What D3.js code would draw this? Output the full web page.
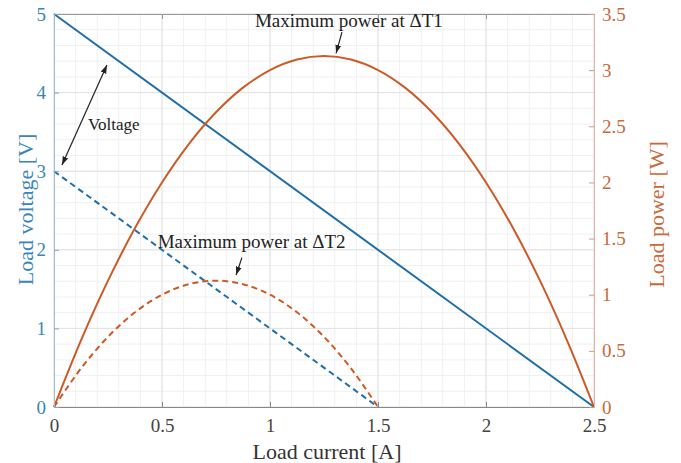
<!DOCTYPE html>
<html><head><meta charset="utf-8">
<script src="https://cdn.jsdelivr.net/npm/d3@7"></script>
<style>
body{margin:0;background:#fff;}
text{font-family:"Liberation Serif","Times New Roman",serif;}
</style></head>
<body><svg id="c" width="681" height="463"></svg>
<script>
// ---- data ----
const currentHi = [0,0.125,0.25,0.375,0.5,0.625,0.75,0.875,1.0,1.125,1.25,1.375,1.5,1.625,1.75,1.875,2.0,2.125,2.25,2.375,2.5];
const powerHi   = [0,0.594,1.125,1.594,2.0,2.344,2.625,2.844,3.0,3.094,3.125,3.094,3.0,2.844,2.625,2.344,2.0,1.594,1.125,0.594,0];
const currentLo = [0,0.125,0.25,0.375,0.5,0.625,0.75,0.875,1.0,1.125,1.25,1.375,1.5];
const powerLo   = [0,0.344,0.625,0.844,1.0,1.094,1.125,1.094,1.0,0.844,0.625,0.344,0];
const voltCurHi = [0,2.5];
const voltHi    = [5,0];
const voltCurLo = [0,1.5];
const voltLo    = [3,0];
const xTicks = [0,0.5,1,1.5,2,2.5];
const yLeftTicks = [0,1,2,3,4,5];
const yRightTicks = [0,0.5,1,1.5,2,2.5,3,3.5];
const xLabel = "Load current [A]";
const yLeftLabel = "Load voltage [V]";
const yRightLabel = "Load power [W]";
// annotations in data coordinates (x current, y voltage axis)
const notes = [
  {text:"Maximum power at \u0394T1", x:0.93, y:4.83, size:19},
  {text:"Maximum power at \u0394T2", x:0.48, y:2.02, size:19},
  {text:"Voltage", x:0.157, y:3.52, size:17}
];
const arrows = [
  {x1:1.333, y1:4.77, x2:1.306, y2:4.50, both:false},
  {x1:0.87, y1:1.90, x2:0.843, y2:1.68, both:false},
  {x1:0.037, y1:3.08, x2:0.245, y2:4.35, both:true}
];

// ---- chart ----
const W=681,H=463, m={l:54,r:87,t:14,b:56};
const svg=d3.select("#c");
const blue="#1f6fa6", orange="#cd5a26", blueTxt="#3a86b8", orangeTxt="#c8693a";
const x=d3.scaleLinear().domain([0,2.5]).range([m.l,W-m.r]);
const yL=d3.scaleLinear().domain([0,5]).range([H-m.b,m.t]);
const yR=d3.scaleLinear().domain([0,3.5]).range([H-m.b,m.t]);

const defs=svg.append("defs");
defs.append("marker").attr("id","ah").attr("viewBox","0 0 10 10").attr("refX",10).attr("refY",5)
 .attr("markerWidth",7).attr("markerHeight",7).attr("orient","auto-start-reverse")
 .append("path").attr("d","M0,1.5 L10,5 L0,8.5 z").attr("fill","#222");

// grid
const g=svg.append("g");
const minorX=d3.range(0,2.5001,0.1), minorY=d3.range(0,5.0001,0.2);
g.selectAll(".mx").data(minorX).enter().append("line").attr("x1",d=>x(d)).attr("x2",d=>x(d))
 .attr("y1",yL(0)).attr("y2",yL(5)).attr("stroke","#f0f0f0").attr("stroke-width",1);
g.selectAll(".my").data(minorY).enter().append("line").attr("y1",d=>yL(d)).attr("y2",d=>yL(d))
 .attr("x1",x(0)).attr("x2",x(2.5)).attr("stroke","#f0f0f0").attr("stroke-width",1);
g.selectAll(".gx").data(xTicks).enter().append("line").attr("x1",d=>x(d)).attr("x2",d=>x(d))
 .attr("y1",yL(0)).attr("y2",yL(5)).attr("stroke","#e2e2e2").attr("stroke-width",1);
g.selectAll(".gy").data(yLeftTicks).enter().append("line").attr("y1",d=>yL(d)).attr("y2",d=>yL(d))
 .attr("x1",x(0)).attr("x2",x(2.5)).attr("stroke","#e2e2e2").attr("stroke-width",1);

// lines
const lineV=d3.line().x(d=>x(d[0])).y(d=>yL(d[1]));
const lineP=d3.line().x(d=>x(d[0])).y(d=>yR(d[1])).curve(d3.curveCatmullRom);
svg.append("path").attr("d",lineV(voltCurHi.map((c,i)=>[c,voltHi[i]]))).attr("fill","none").attr("stroke",blue).attr("stroke-width",2);
svg.append("path").attr("d",lineV(voltCurLo.map((c,i)=>[c,voltLo[i]]))).attr("fill","none").attr("stroke",blue).attr("stroke-width",2).attr("stroke-dasharray","6,4");
svg.append("path").attr("d",lineP(currentHi.map((c,i)=>[c,powerHi[i]]))).attr("fill","none").attr("stroke",orange).attr("stroke-width",2);
svg.append("path").attr("d",lineP(currentLo.map((c,i)=>[c,powerLo[i]]))).attr("fill","none").attr("stroke",orange).attr("stroke-width",2).attr("stroke-dasharray","6,4");

// axes
const axB=svg.append("g").attr("transform",`translate(0,${H-m.b})`)
 .call(d3.axisBottom(x).tickValues(xTicks).tickSizeInner(-5).tickSizeOuter(0).tickPadding(11).tickFormat(d3.format("")));
axB.select(".domain").attr("stroke","#888");
axB.selectAll(".tick line").attr("stroke","#888");
axB.selectAll("text").attr("font-size",19).attr("fill","#444").attr("dy","0.72em");
const axT=svg.append("g").attr("transform",`translate(0,${m.t})`)
 .call(d3.axisTop(x).tickValues(xTicks).tickSizeInner(-5).tickSizeOuter(0).tickFormat(""));
axT.select(".domain").attr("stroke","#999");
axT.selectAll(".tick line").attr("stroke","#999");
const axL=svg.append("g").attr("transform",`translate(${m.l},0)`)
 .call(d3.axisLeft(yL).tickValues(yLeftTicks).tickSizeInner(-5).tickSizeOuter(0).tickPadding(8).tickFormat(d3.format("")));
axL.select(".domain").attr("stroke","#9bbcd2");
axL.selectAll(".tick line").attr("stroke","#7ea8c4");
axL.selectAll("text").attr("font-size",19).attr("fill",blueTxt);
const axR=svg.append("g").attr("transform",`translate(${W-m.r},0)`)
 .call(d3.axisRight(yR).tickValues(yRightTicks).tickSizeInner(-5).tickSizeOuter(0).tickPadding(8).tickFormat(d3.format("")));
axR.select(".domain").attr("stroke","#e0b59e");
axR.selectAll(".tick line").attr("stroke","#d49a7c");
axR.selectAll("text").attr("font-size",19).attr("fill",orangeTxt);

// axis labels
svg.append("text").attr("x",(x(0)+x(2.5))/2+3).attr("y",459).attr("text-anchor","middle").attr("font-size",22).attr("fill","#333").text(xLabel);
svg.append("text").attr("transform",`translate(33,${(yL(0)+yL(5))/2-1}) rotate(-90)`).attr("text-anchor","middle").attr("font-size",22).attr("fill",blueTxt).text(yLeftLabel);
svg.append("text").attr("transform",`translate(664,${(yL(0)+yL(5))/2+4}) rotate(-90)`).attr("text-anchor","middle").attr("font-size",22).attr("fill",orangeTxt).text(yRightLabel);

// annotations
svg.selectAll(".note").data(notes).enter().append("text").attr("x",d=>x(d.x)).attr("y",d=>yL(d.y))
 .attr("font-size",d=>d.size).attr("fill","#222").text(d=>d.text);
svg.selectAll(".arr").data(arrows).enter().append("line")
 .attr("x1",d=>x(d.x1)).attr("y1",d=>yL(d.y1)).attr("x2",d=>x(d.x2)).attr("y2",d=>yL(d.y2))
 .attr("stroke","#222").attr("stroke-width",1.2)
 .attr("marker-end","url(#ah)").attr("marker-start",d=>d.both?"url(#ah)":null);
</script></body></html>
